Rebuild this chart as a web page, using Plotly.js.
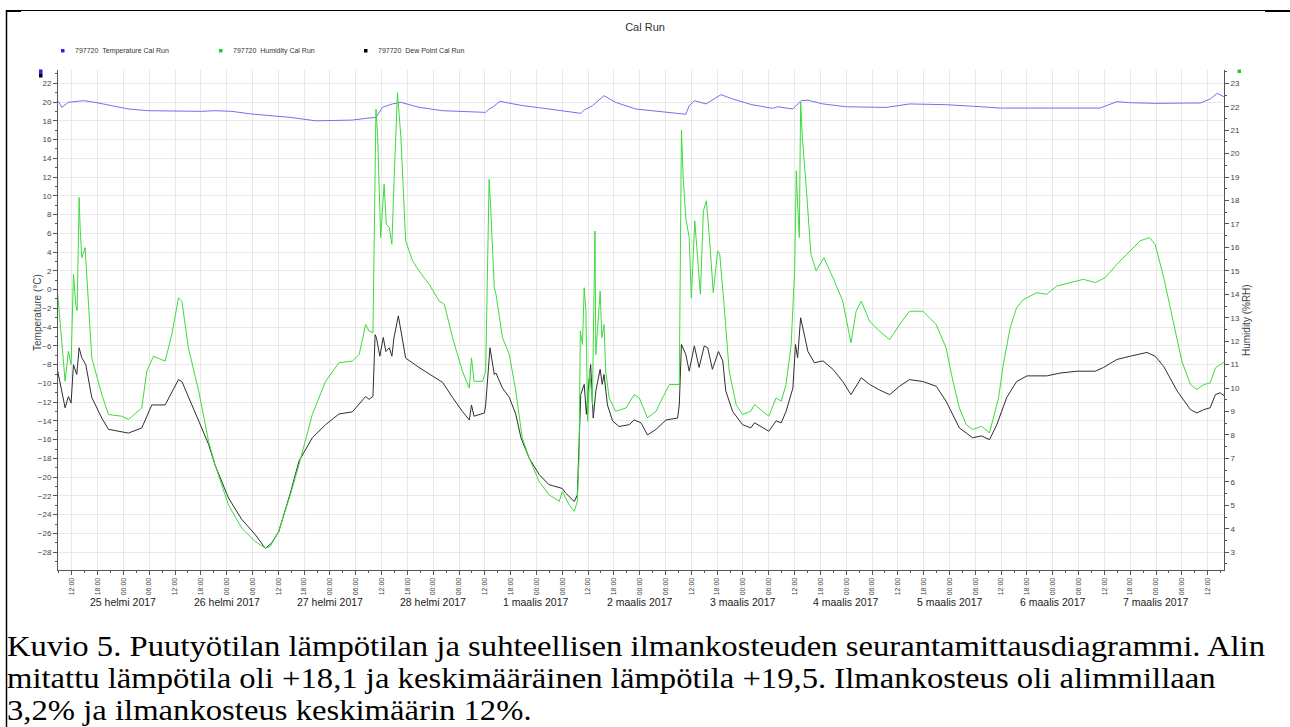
<!DOCTYPE html>
<html>
<head>
<meta charset="utf-8">
<script src="https://cdn.plot.ly/plotly-3.0.1.min.js"></script>
<style>
html,body{margin:0;padding:0;background:#fff;overflow:hidden;}
#wrap{position:relative;width:1290px;height:727px;overflow:hidden;}
#chart{position:absolute;left:0;top:0;width:1290px;height:727px;}
#caption{position:absolute;left:7px;top:631px;font-family:'Liberation Serif','Times New Roman',serif;font-size:28.5px;line-height:32px;color:#000;transform-origin:0 0;white-space:nowrap;}
#caption div{height:32px;}
</style>
</head>
<body>
<div id="wrap">
<div id="chart"></div>
<div id="caption"></div>
</div>
<script>
// ---- DATA (hours after 24 Feb 2017 12:00) ----
const seriesNames = ['797720  Temperature Cal Run', '797720  Humidity Cal Run', '797720  Dew Point Cal Run'];

const tempHours = [-3.1, -2.3, -0.8, 2.7, 5.4, 9.3, 13.2, 17.8, 24, 30.2, 33.3, 37.2, 41.9, 47.3, 50.8, 56.7, 65.2, 68.3, 70.7, 72.2, 74.5, 76.5, 80.7, 86.2, 92.4, 96.2, 97, 97.8, 99.5, 104.4, 110.9, 118.3, 119.1, 121, 123.7, 126.4, 131.1, 136.5, 141.6, 142.7, 143.5, 144.7, 147.4, 150.9, 153.6, 157.8, 162.9, 164.1, 167.6, 169.5, 171.1, 174.6, 180, 189.3, 194.7, 203.2, 211.4, 215.8, 239, 242.9, 246, 252.2, 260, 262.3, 264.6, 266.2, 268.1];
const tempValues = [20.08, 19.44, 19.97, 20.15, 19.97, 19.61, 19.26, 19.08, 19.01, 19.01, 19.08, 19.01, 18.72, 18.55, 18.37, 18.0, 18.08, 18.26, 18.37, 19.44, 19.8, 19.97, 19.44, 19.08, 19.0, 18.9, 19.26, 19.44, 20.08, 19.65, 19.26, 18.8, 19.15, 19.6, 20.68, 19.97, 19.26, 19.0, 18.8, 18.7, 19.6, 20.15, 19.8, 20.79, 20.33, 19.75, 19.33, 19.5, 19.26, 20.15, 20.2, 19.8, 19.5, 19.43, 19.8, 19.72, 19.5, 19.36, 19.36, 20.04, 19.93, 19.86, 19.9, 19.9, 20.33, 20.93, 20.5];

const humHours = [-3.26, -1.55, -0.78, -0.16, 0.39, 0.93, 1.24, 1.71, 1.94, 2.33, 3.1, 3.57, 4.65, 6.98, 8.53, 11.63, 13.18, 16.28, 17.44, 18.99, 21.7, 23.26, 24.8, 25.6, 27.1, 29.5, 31.8, 33.3, 36.4, 39.5, 42.6, 45.0, 46.1, 48.1, 50.8, 52.8, 55.9, 59.0, 62.1, 65.2, 66.8, 68.3, 69.1, 70.0, 70.3, 70.7, 71.1, 71.8, 72.6, 73.1, 73.8, 74.4, 74.9, 75.7, 76.5, 77.6, 79.2, 80.7, 83.1, 85.4, 86.6, 88.5, 90.8, 92.4, 92.9, 93.5, 95.5, 96.2, 97.0, 97.4, 98.2, 98.6, 100.1, 101.7, 103.2, 104.7, 106.3, 108.6, 110.9, 113.3, 114.0, 115.6, 116.8, 117.5, 117.9, 118.2, 118.7, 119.1, 119.5, 119.9, 120.4, 121.0, 121.6, 121.8, 122.6, 122.8, 123.2, 123.7, 124.1, 124.9, 126.4, 128.8, 130.7, 131.9, 133.8, 135.8, 137.3, 138.9, 141.2, 141.4, 141.7, 142.1, 142.7, 143.5, 144.0, 144.8, 145.4, 146.1, 146.8, 147.5, 148.2, 149.1, 150.1, 150.6, 151.6, 152.8, 154.4, 155.9, 157.8, 158.7, 160.6, 162.0, 163.7, 164.9, 166.0, 167.2, 168.0, 168.4, 168.7, 169.1, 169.4, 169.8, 170.7, 171.8, 173.0, 174.8, 176.9, 179.2, 181.1, 182.3, 183.5, 185.4, 187.7, 190.1, 192.4, 194.7, 197.8, 200.9, 203.2, 204.8, 206.3, 207.9, 209.4, 211.4, 211.9, 213.3, 214.2, 215.4, 216.5, 218.1, 219.6, 221.2, 224.3, 226.6, 228.9, 232.0, 235.1, 237.9, 240.2, 242.9, 246.0, 248.3, 250.5, 251.8, 253.8, 256.1, 258.0, 260.0, 261.5, 263.1, 264.6, 265.8, 266.9, 268.1];
const humValues = [14.0, 10.29, 11.58, 11.0, 14.85, 13.57, 13.3, 18.13, 16.85, 15.56, 15.99, 14.42, 11.29, 9.72, 8.87, 8.8, 8.66, 9.15, 10.72, 11.36, 11.15, 12.29, 13.85, 13.7, 11.72, 9.87, 7.73, 6.73, 5.02, 4.03, 3.46, 3.17, 3.24, 3.88, 5.45, 6.73, 8.87, 10.29, 11.08, 11.15, 11.43, 12.71, 12.43, 12.36, 16.42, 21.9, 20.7, 16.42, 18.7, 16.99, 16.85, 16.13, 18.84, 22.6, 20.69, 16.28, 15.43, 15.0, 14.42, 13.71, 13.57, 12.15, 10.72, 10.0, 11.29, 10.29, 10.29, 10.72, 18.9, 17.56, 14.28, 14.0, 12.15, 11.43, 9.87, 7.87, 7.02, 6.02, 5.45, 5.17, 5.59, 5.02, 4.74, 5.17, 7.02, 12.43, 11.86, 14.28, 13.28, 8.58, 10.72, 9.3, 16.7, 11.43, 13.57, 14.14, 12.15, 12.71, 10.72, 9.58, 9.01, 9.15, 9.72, 9.58, 8.73, 9.01, 9.58, 10.15, 10.15, 13.57, 21.0, 19.0, 17.27, 16.42, 13.85, 17.13, 15.56, 14.0, 17.56, 17.99, 16.42, 14.07, 15.85, 15.71, 13.57, 10.72, 9.3, 8.87, 9.01, 9.3, 9.01, 8.8, 9.58, 9.44, 10.15, 11.86, 14.99, 19.27, 17.84, 16.42, 22.2, 20.69, 18.56, 15.71, 15.0, 15.56, 14.71, 13.71, 11.93, 13.28, 13.71, 12.86, 12.43, 12.07, 12.71, 13.28, 13.28, 12.71, 11.72, 10.29, 9.15, 8.44, 8.23, 8.37, 8.3, 8.09, 8.73, 9.58, 11.0, 12.57, 13.43, 13.78, 14.07, 14.0, 14.35, 14.5, 14.64, 14.5, 14.71, 15.28, 15.85, 16.28, 16.42, 16.13, 14.71, 12.71, 11.15, 10.15, 9.94, 10.15, 10.22, 10.86, 11.0, 11.15];

const dewHours = [-3.26, -1.55, -0.78, -0.16, 0.39, 1.16, 1.71, 2.33, 3.26, 4.65, 6.98, 8.53, 13.18, 16.28, 18.6, 21.7, 24.8, 25.6, 29.5, 31.8, 33.3, 36.4, 39.5, 42.6, 45.0, 46.5, 48.1, 50.8, 52.8, 55.9, 59.0, 62.1, 65.2, 68.3, 69.1, 70.0, 70.5, 70.8, 71.6, 72.4, 73.0, 73.8, 74.4, 74.9, 75.9, 76.5, 77.6, 80.7, 86.2, 88.5, 90.8, 92.4, 92.9, 93.5, 95.9, 96.2, 97.2, 98.2, 98.6, 100.1, 101.7, 103.2, 104.4, 106.3, 108.6, 110.9, 114.0, 114.8, 116.8, 117.5, 117.9, 118.3, 119.1, 119.6, 120.2, 120.6, 121.2, 121.8, 122.8, 123.3, 123.7, 124.5, 125.7, 127.2, 129.6, 130.7, 132.3, 133.8, 135.8, 138.1, 140.8, 141.2, 141.7, 142.7, 143.5, 144.7, 145.8, 147.0, 147.8, 148.9, 150.3, 151.3, 152.0, 153.6, 155.9, 157.8, 158.7, 162.0, 163.7, 164.9, 166.0, 167.6, 168.2, 168.7, 169.4, 169.9, 171.1, 172.6, 174.6, 176.9, 179.2, 181.1, 183.5, 185.4, 187.7, 190.1, 192.4, 194.7, 197.8, 200.9, 203.2, 206.3, 209.4, 211.4, 213.3, 215.0, 217.3, 219.6, 222.0, 226.6, 229.7, 233.6, 237.9, 239.8, 242.9, 246.0, 249.9, 251.8, 253.8, 256.9, 260.0, 261.5, 263.1, 264.6, 265.8, 266.9, 268.1];
const dewValues = [-8.7, -12.6, -11.4, -12.1, -8.0, -9.05, -6.2, -7.27, -8.0, -11.5, -13.7, -14.9, -15.3, -14.75, -12.3, -12.3, -9.6, -9.8, -14.0, -16.5, -18.7, -22.2, -24.5, -26.1, -27.6, -27.0, -25.8, -21.7, -18.3, -15.8, -14.4, -13.26, -13.04, -11.4, -11.7, -11.4, -4.8, -5.1, -7.1, -5.1, -6.6, -6.2, -7.1, -5.1, -2.8, -4.4, -7.3, -8.3, -9.9, -11.5, -13.0, -13.9, -12.3, -13.5, -13.15, -12.3, -6.2, -9.05, -8.9, -10.5, -11.5, -13.3, -15.8, -17.96, -19.7, -20.8, -21.2, -21.7, -22.6, -21.9, -17.2, -11.2, -10.1, -13.3, -9.8, -8.0, -13.7, -10.8, -8.5, -10.1, -9.05, -12.3, -14.0, -14.6, -14.4, -13.9, -14.2, -15.5, -14.9, -13.9, -13.7, -12.3, -5.85, -6.9, -8.7, -6.0, -8.3, -6.0, -6.2, -8.5, -6.6, -7.6, -10.8, -13.0, -14.4, -14.75, -14.2, -15.1, -14.0, -14.2, -13.0, -10.5, -5.85, -7.27, -3.0, -4.1, -6.6, -7.8, -7.6, -8.5, -9.8, -11.2, -9.4, -10.1, -10.7, -11.2, -10.3, -9.6, -9.8, -10.3, -11.9, -14.75, -15.8, -15.6, -16.0, -14.4, -11.5, -9.8, -9.2, -9.2, -8.9, -8.7, -8.7, -8.3, -7.45, -7.1, -6.7, -7.1, -8.2, -10.8, -12.8, -13.15, -12.8, -12.6, -11.2, -11.0, -11.4];

const dayLabels = ['25 helmi 2017', '26 helmi 2017', '27 helmi 2017', '28 helmi 2017', '1 maalis 2017', '2 maalis 2017', '3 maalis 2017', '4 maalis 2017', '5 maalis 2017', '6 maalis 2017', '7 maalis 2017'];
const dayLabelHours = [12, 36, 60, 84, 108, 132, 156, 180, 204, 228, 252];

const captionLines = [
  'Kuvio 5. Puutyötilan lämpötilan ja suhteellisen ilmankosteuden seurantamittausdiagrammi. Alin',
  'mitattu lämpötila oli +18,1 ja keskimääräinen lämpötila +19,5. Ilmankosteus oli alimmillaan',
  '3,2% ja ilmankosteus keskimäärin 12%.'
];

// ---- helpers ----
const startMs = Date.UTC(2017, 1, 24, 12, 0, 0);
function toDate(h) { return new Date(startMs + h * 3600000).toISOString().slice(0, 19).replace('T', ' '); }

const W = 1290, H = 727;
const M = {l: 58, r: 66, t: 70, b: 157};
const PW = W - M.l - M.r, PH = H - M.t - M.b;
function px(x) { return (x - M.l) / PW; }
function py(y) { return (H - M.b - y) / PH; }

const tRange = [-29.9, 23.42];
const hRange = tRange.map(v => 3 + 0.4 * (v + 28));

const BLUE = '#7272ee', GREEN = '#3ddb3d', DARK = '#2e2e2e';
const AXC = '#555555', GRID = '#e8e8e8', TXT = '#333333';

const traces = [
  {x: tempHours.map(toDate), y: tempValues, type: 'scatter', mode: 'lines', name: seriesNames[0], line: {color: BLUE, width: 1}, yaxis: 'y'},
  {x: humHours.map(toDate), y: humValues, type: 'scatter', mode: 'lines', name: seriesNames[1], line: {color: GREEN, width: 1}, yaxis: 'y2'},
  {x: dewHours.map(toDate), y: dewValues, type: 'scatter', mode: 'lines', name: seriesNames[2], line: {color: DARK, width: 1}, yaxis: 'y'}
];

const annotations = [];
const shapes = [];

// legend
const legendX = [73, 231, 376];
const legendColors = ['#2525e0', '#22cc22', '#000'];
for (let i = 0; i < 3; i++) {
  annotations.push({xref: 'paper', yref: 'paper', x: px(legendX[i]), y: py(50.5), xanchor: 'left', yanchor: 'middle', showarrow: false, text: seriesNames[i].replace('  ', '&nbsp;&nbsp;'), font: {family: 'Liberation Sans, Arial', size: 7, color: TXT}});
  shapes.push({type: 'rect', xref: 'paper', yref: 'paper', x0: px(legendX[i] - 12), x1: px(legendX[i] - 8.5), y0: py(52.5), y1: py(49), fillcolor: legendColors[i], line: {width: 0}});
}
// axis owner markers
shapes.push({type: 'rect', xref: 'paper', yref: 'paper', x0: px(39), x1: px(42.5), y0: py(74), y1: py(69.5), fillcolor: '#2525e0', line: {width: 0}});
shapes.push({type: 'rect', xref: 'paper', yref: 'paper', x0: px(39), x1: px(42.5), y0: py(77.5), y1: py(74), fillcolor: '#000', line: {width: 0}});
shapes.push({type: 'rect', xref: 'paper', yref: 'paper', x0: px(1237.5), x1: px(1241), y0: py(73), y1: py(69.5), fillcolor: '#22cc22', line: {width: 0}});

// axis titles
annotations.push({xref: 'paper', yref: 'paper', x: px(37), y: py(313), textangle: -90, showarrow: false, text: 'Temperature (°C)', xanchor: 'center', yanchor: 'middle', font: {family: 'Liberation Sans, Arial', size: 10, color: '#444'}});
annotations.push({xref: 'paper', yref: 'paper', x: px(1246), y: py(320), textangle: -90, showarrow: false, text: 'Humidity (%RH)', xanchor: 'center', yanchor: 'middle', font: {family: 'Liberation Sans, Arial', size: 10, color: '#444'}});

// day labels
for (let i = 0; i < dayLabels.length; i++) {
  annotations.push({xref: 'x', yref: 'paper', x: toDate(dayLabelHours[i]), y: py(602), showarrow: false, text: dayLabels[i], xanchor: 'center', yanchor: 'middle', font: {family: 'Liberation Sans, Arial', size: 10.5, color: '#222'}});
}

// page frame
shapes.push({type: 'line', xref: 'paper', yref: 'paper', x0: px(6.5), x1: px(6.5), y0: py(10), y1: py(730), line: {color: '#000', width: 1.5}});
shapes.push({type: 'line', xref: 'paper', yref: 'paper', x0: px(6), x1: px(1292), y0: py(10.5), y1: py(10.5), line: {color: '#000', width: 1}});
shapes.push({type: 'line', xref: 'paper', yref: 'paper', x0: px(6), x1: px(21), y0: py(11), y1: py(11), line: {color: '#000', width: 2}});
shapes.push({type: 'line', xref: 'paper', yref: 'paper', x0: px(1265), x1: px(1292), y0: py(11), y1: py(11), line: {color: '#000', width: 2}});

const layout = {
  width: W, height: H,
  margin: M,
  paper_bgcolor: 'rgba(0,0,0,0)', plot_bgcolor: '#fff',
  showlegend: false,
  font: {family: 'Liberation Sans, Arial', size: 8, color: '#444'},
  title: {text: 'Cal Run', x: 645 / W, xanchor: 'center', y: 1 - 27 / H, yanchor: 'middle', font: {family: 'Liberation Sans, Arial', size: 11, color: TXT}},
  xaxis: {
    type: 'date', range: [toDate(-3.2), toDate(267.8)],
    tick0: toDate(0), dtick: 6 * 3600000, tickformat: '%H:%M', tickangle: -90,
    ticks: 'outside', ticklen: 4, tickcolor: AXC, tickfont: {size: 7, color: '#444'},
    showline: true, linecolor: AXC, linewidth: 1,
    showgrid: true, gridcolor: GRID, gridwidth: 1, zeroline: false,
    minor: {dtick: 3 * 3600000, ticks: 'outside', ticklen: 2, tickcolor: AXC, showgrid: false}
  },
  yaxis: {
    range: tRange, tick0: 0, dtick: 2,
    ticks: 'outside', ticklen: 4, tickcolor: AXC, tickfont: {size: 8, color: '#444'},
    showline: true, linecolor: AXC, linewidth: 1,
    showgrid: true, gridcolor: GRID, gridwidth: 1, zeroline: false,
    minor: {dtick: 1, ticks: 'outside', ticklen: 2, tickcolor: AXC, showgrid: false}
  },
  yaxis2: {
    range: hRange, overlaying: 'y', side: 'right', tick0: 0, dtick: 1,
    ticks: 'outside', ticklen: 4, tickcolor: AXC, tickfont: {size: 8, color: '#444'},
    showline: true, linecolor: AXC, linewidth: 1,
    showgrid: false, zeroline: false,
    minor: {dtick: 0.5, ticks: 'outside', ticklen: 2, tickcolor: AXC, showgrid: false}
  },
  annotations: annotations,
  shapes: shapes
};

Plotly.newPlot('chart', traces, layout, {staticPlot: true, displayModeBar: false});

// caption (document text under the chart image)
const cap = document.getElementById('caption');
captionLines.forEach(function (line) {
  const d = document.createElement('div');
  d.textContent = line;
  cap.appendChild(d);
});
const firstWidth = cap.firstChild.getBoundingClientRect().width;
cap.style.transform = 'scaleX(' + (1258 / firstWidth) + ')';
</script>
</body>
</html>
